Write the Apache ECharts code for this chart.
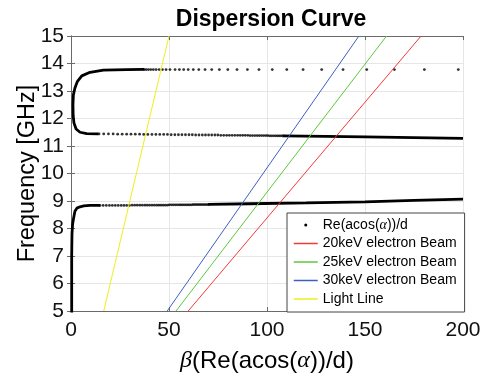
<!DOCTYPE html>
<html><head><meta charset="utf-8">
<script src="https://cdn.jsdelivr.net/npm/echarts@6/dist/echarts.min.js"></script>
<style>html,body{margin:0;padding:0;background:#fff}#c{width:485px;height:378px}</style>
</head><body><div id="c"></div><script>
// ---- data ----
const xTicks = [0, 50, 100, 150, 200];
const yTicks = [5, 6, 7, 8, 9, 10, 11, 12, 13, 14, 15];
const legendNames = ['Re(acos(α))/d', '20keV electron Beam', '25keV electron Beam', '30keV electron Beam', 'Light Line'];
const lineColors = ['#000000', '#f23a3a', '#5cc83c', '#3f5fc0', '#eeee1e'];

// solid (densely sampled) parts of the dispersion curve
const lowerSolid = [[0.35,4.9],[0.35,7.0],[0.5,7.8],[0.8,8.15],[1.2,8.33],[2.0,8.63],[3.0,8.74],[4.6,8.79],[6.5,8.82],[9.7,8.84],[14.8,8.84]];
const lowerTail = [[70,8.875],[91,8.90],[120,8.93],[150,8.97],[175,9.02],[200,9.07]];
const loopSolid = [[14,11.44],[8,11.45],[4.6,11.50],[2.6,11.62],[1.5,11.84],[1.1,12.1],[1.0,12.5],[1.2,12.85],[2.0,13.11],[3.2,13.34],[5.5,13.55],[9.7,13.68],[16.5,13.76],[28.4,13.78],[37.4,13.785]];
const middleTail = [[108,11.37],[130,11.35],[150,11.33],[175,11.305],[200,11.28]];

// sparse (dotted) parts of the dispersion curve
const upperDots = [[37.4,13.78],[38.4,13.78],[39.5,13.78],[40.7,13.78],[42.0,13.78],[43.4,13.78],[44.95,13.78],[46.65,13.78],[48.5,13.78],[50.5,13.78],[53.1,13.78],[55.3,13.78],[57.5,13.78],[59.8,13.78],[62.4,13.78],[65.2,13.78],[68.4,13.78],[71.8,13.78],[75.7,13.78],[80.0,13.78],[84.7,13.78],[90.0,13.78],[95.9,13.78],[102.7,13.78],[110.1,13.78],[118.4,13.78],[127.9,13.78],[138.8,13.78],[150.9,13.78],[165.0,13.78],[180.3,13.78],[197.6,13.78]];
const middleDots = [[14.3,11.44],[16.7,11.44],[19.1,11.44],[21.5,11.44],[23.8,11.43],[26.1,11.43],[28.4,11.43],[30.6,11.43],[32.8,11.43],[35.0,11.43],[37.1,11.42],[39.2,11.42],[41.3,11.42],[43.3,11.42],[45.3,11.42],[47.3,11.42],[49.2,11.42],[51.1,11.41],[53.0,11.41],[54.8,11.41],[56.6,11.41],[58.4,11.41],[60.2,11.41],[61.9,11.41],[63.6,11.40],[65.3,11.40],[67.0,11.40],[68.6,11.40],[70.2,11.40],[71.8,11.40],[73.4,11.40],[74.9,11.40],[76.4,11.39],[77.9,11.39],[79.4,11.39],[80.8,11.39],[82.2,11.39],[83.6,11.39],[85.0,11.39],[86.3,11.39],[87.6,11.39],[88.9,11.39],[90.2,11.39],[91.4,11.38],[92.6,11.38],[93.8,11.38],[95.0,11.38],[96.1,11.38],[97.2,11.38],[98.3,11.38],[99.4,11.38],[100.4,11.38],[101.4,11.37],[102.4,11.37],[103.4,11.37],[104.4,11.37],[105.3,11.37],[106.2,11.37],[107.1,11.37],[108.0,11.37]];
const lowerDots = [[14.8,8.84],[16.4,8.84],[18.0,8.84],[19.6,8.84],[21.1,8.84],[22.6,8.84],[24.1,8.84],[25.6,8.84],[27.0,8.84],[28.4,8.84],[29.8,8.84],[31.2,8.85],[32.5,8.85],[33.8,8.85],[35.1,8.85],[36.4,8.85],[37.7,8.85],[38.9,8.85],[40.1,8.85],[41.3,8.85],[42.5,8.85],[43.7,8.85],[44.8,8.85],[45.9,8.85],[47.0,8.85],[48.1,8.85],[49.2,8.85],[50.2,8.86],[51.2,8.86],[52.2,8.86],[53.2,8.86],[54.2,8.86],[55.2,8.86],[56.1,8.86],[57.0,8.86],[57.9,8.86],[58.8,8.86],[59.7,8.86],[60.6,8.86],[61.5,8.86],[62.3,8.87],[63.1,8.87],[63.9,8.87],[64.7,8.87],[65.5,8.87],[66.3,8.87],[67.1,8.87],[67.9,8.87],[68.7,8.87],[69.5,8.87],[70.3,8.875]];

// beam and light lines (beta, frequency)
const beam20 = [[59.8,5],[178.6,15]];
const beam25 = [[53.6,5],[161.0,15]];
const beam30 = [[49.1,5],[146.9,15]];
const lightLine = [[16.7,5],[50.0,15]];

// ---- chart ----
const FONT = '"Liberation Sans", Arial, Helvetica, sans-serif';
const MATH = {fontFamily:'"Liberation Serif", "DejaVu Serif", serif', fontStyle:'italic'};
const chart = echarts.init(document.getElementById('c'), null, {renderer:'canvas'});
const axisCol = '#6a6a6a';
const gridCol = '#e6e6e6';
function solid(data){return {type:'line', data, showSymbol:false, symbol:'none', silent:true,
  lineStyle:{color:'#000', width:2.8}, z:3, animation:false};}
function beam(name,data,color){return {type:'line', name, data, showSymbol:false, symbol:'none',
  color, lineStyle:{color, width:1}, itemStyle:{color}, z:4, animation:false};}

chart.setOption({
  animation:false,
  backgroundColor:'#fff',
  title:{text:'Dispersion Curve', left:266, top:3, textAlign:'center',
    textStyle:{fontFamily:FONT, fontSize:23, fontWeight:'bold', color:'#000'}},
  grid:{left:71, right:22, top:36, bottom:66, containLabel:false},
  legend:{orient:'vertical', left:287, top:213,
    data:legendNames.map((n,i)=> i===0 ? {name:n, itemStyle:{opacity:1}} :
      {name:n, itemStyle:{opacity:0}, lineStyle:{color:lineColors[i], width:1.5}}),
    itemWidth:24, itemHeight:3, itemGap:4.5, padding:[5,8,6,6],
    backgroundColor:'#fff', borderColor:'#444', borderWidth:1,
    textStyle:{fontFamily:FONT, fontSize:14, color:'#000', rich:{m:{...MATH, fontSize:14, color:'#000'}}},
    formatter:n => n.replace('α','{m|α}')},
  xAxis:[
    {type:'value', min:xTicks[0], max:xTicks[xTicks.length-1], interval:xTicks[1]-xTicks[0],
     name:'{m|β}(Re(acos({m|α}))/d)', nameLocation:'middle', nameGap:38, nameMoveOverlap:false,
     nameTextStyle:{fontFamily:FONT, fontSize:24, color:'#000', rich:{m:{...MATH, fontSize:24, color:'#000'}}},
     axisLine:{show:true, lineStyle:{color:axisCol, width:1}},
     axisTick:{show:true, inside:true, length:4, lineStyle:{color:axisCol}},
     axisLabel:{fontFamily:FONT, fontSize:21, color:'#111', margin:9},
     splitLine:{show:true, lineStyle:{color:gridCol, width:1}}},
    {type:'value', position:'top', min:xTicks[0], max:xTicks[xTicks.length-1], interval:xTicks[1]-xTicks[0],
     axisLine:{show:true, lineStyle:{color:axisCol, width:1}},
     axisTick:{show:true, inside:true, length:4, lineStyle:{color:axisCol}},
     axisLabel:{show:false}, splitLine:{show:false}}
  ],
  yAxis:[
    {type:'value', min:yTicks[0], max:yTicks[yTicks.length-1], interval:yTicks[1]-yTicks[0],
     name:'Frequency [GHz]', nameLocation:'middle', nameGap:31, nameRotate:90, nameMoveOverlap:false,
     nameTextStyle:{fontFamily:FONT, fontSize:23.5, color:'#000'},
     axisLine:{show:true, lineStyle:{color:axisCol, width:1}},
     axisTick:{show:true, inside:true, length:4, lineStyle:{color:axisCol}},
     axisLabel:{fontFamily:FONT, fontSize:21, color:'#111', margin:7},
     splitLine:{show:true, lineStyle:{color:gridCol, width:1}}},
    {type:'value', position:'right', min:yTicks[0], max:yTicks[yTicks.length-1], interval:yTicks[1]-yTicks[0],
     axisLine:{show:true, lineStyle:{color:axisCol, width:1}},
     axisTick:{show:true, inside:true, length:4, lineStyle:{color:axisCol}},
     axisLabel:{show:false}, splitLine:{show:false}}
  ],
  series:[
    solid(lowerSolid), solid(lowerTail), solid(loopSolid), solid(middleTail),
    {type:'scatter', name:legendNames[0], data:upperDots.concat(middleDots, lowerDots),
     symbol:'circle', symbolSize:2.8, itemStyle:{color:'#000'}, z:3, animation:false},
    beam(legendNames[1], beam20, lineColors[1]),
    beam(legendNames[2], beam25, lineColors[2]),
    beam(legendNames[3], beam30, lineColors[3]),
    beam(legendNames[4], lightLine, lineColors[4])
  ]
});
</script></body></html>
